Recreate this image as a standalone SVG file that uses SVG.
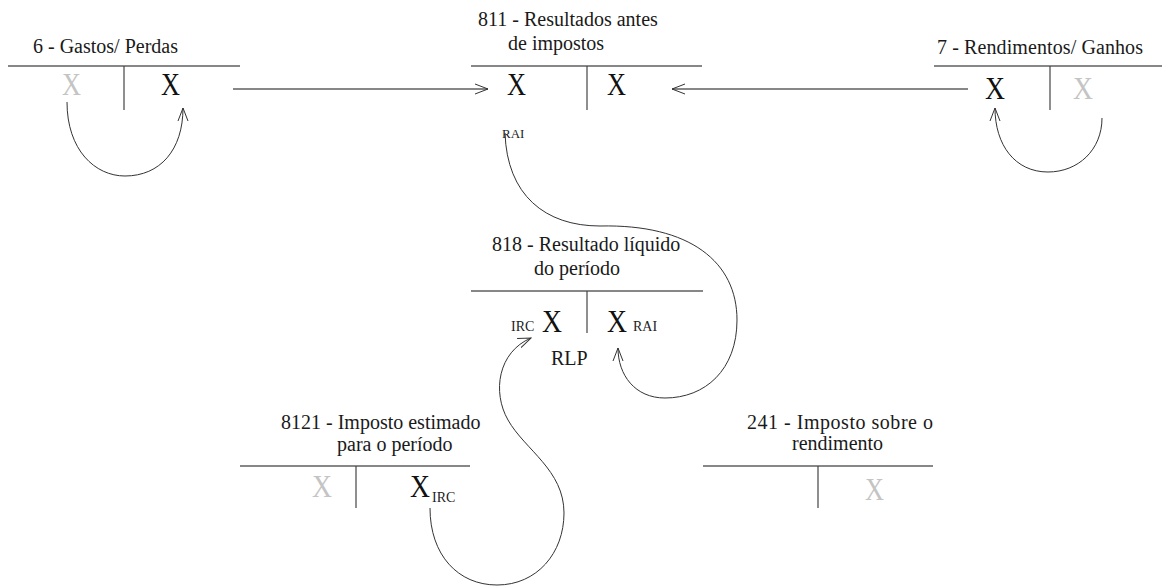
<svg xmlns="http://www.w3.org/2000/svg" width="1162" height="586" viewBox="0 0 1162 586">
<style>
.t{font-family:"Liberation Serif","Times New Roman",serif;font-size:20px;fill:#1a1a1a}
.x{font-family:"Liberation Serif","Times New Roman",serif;font-size:32px;fill:#111}
.g{fill:#c4c4c4}
.s{font-family:"Liberation Serif","Times New Roman",serif;font-size:14px;fill:#222}
.h{stroke:#111;stroke-width:1.2;fill:none}
.v{stroke:#444;stroke-width:1.2;fill:none}
.c{stroke:#333;stroke-width:1;fill:none}
</style>
<defs>
<marker id="ah" viewBox="0 0 14 12" refX="13" refY="6" markerWidth="14" markerHeight="12" markerUnits="userSpaceOnUse" orient="auto">
<path d="M0,1 L13,6 L0,11" fill="none" stroke="#333" stroke-width="1"/>
</marker>
</defs>
<rect width="1162" height="586" fill="#fff"/>

<g id="n6">
<text class="t" x="33" y="53">6 - Gastos/ Perdas</text>
<line class="h" x1="8" y1="66" x2="240" y2="66"/>
<line class="v" x1="124" y1="66" x2="124" y2="110"/>
<text class="x g" x="62" y="95" textLength="19" lengthAdjust="spacingAndGlyphs">X</text>
<text class="x" x="161" y="95" textLength="19" lengthAdjust="spacingAndGlyphs">X</text>
</g>

<g id="n811">
<text class="t" x="478" y="26">811 - Resultados antes</text>
<text class="t" x="508" y="50">de impostos</text>
<line class="h" x1="471" y1="66" x2="702" y2="66"/>
<line class="v" x1="587" y1="66" x2="587" y2="110"/>
<text class="x" x="507" y="95" textLength="19" lengthAdjust="spacingAndGlyphs">X</text>
<text class="x" x="607" y="95" textLength="19" lengthAdjust="spacingAndGlyphs">X</text>
<text class="s" x="502" y="138" style="font-size:13px">RAI</text>
</g>

<g id="n7">
<text class="t" x="937" y="54" textLength="206">7 - Rendimentos/ Ganhos</text>
<line class="h" x1="934" y1="66" x2="1162" y2="66"/>
<line class="v" x1="1050" y1="66" x2="1050" y2="110"/>
<text class="x" x="985" y="99" textLength="20" lengthAdjust="spacingAndGlyphs">X</text>
<text class="x g" x="1073" y="99" textLength="20" lengthAdjust="spacingAndGlyphs">X</text>
</g>

<g id="n818">
<text class="t" x="492" y="251">818 - Resultado líquido</text>
<text class="t" x="534" y="275">do período</text>
<line class="h" x1="471" y1="291" x2="703" y2="291"/>
<line class="v" x1="587" y1="291" x2="587" y2="333"/>
<text class="s" x="511" y="331">IRC</text>
<text class="x" x="542" y="332" textLength="20" lengthAdjust="spacingAndGlyphs">X</text>
<text class="x" x="607" y="332" textLength="20" lengthAdjust="spacingAndGlyphs">X</text>
<text class="s" x="633" y="331">RAI</text>
<text class="t" x="551" y="365">RLP</text>
</g>

<g id="n8121">
<text class="t" x="281" y="429">8121 - Imposto estimado</text>
<text class="t" x="337" y="451">para o período</text>
<line class="h" x1="240" y1="466" x2="470" y2="466"/>
<line class="v" x1="356" y1="466" x2="356" y2="508"/>
<text class="x g" x="312" y="497" textLength="20" lengthAdjust="spacingAndGlyphs">X</text>
<text class="x" x="410" y="497" textLength="20" lengthAdjust="spacingAndGlyphs">X</text>
<text class="s" x="432" y="502">IRC</text>
</g>

<g id="n241">
<text class="t" x="747" y="429" textLength="186">241 - Imposto sobre o</text>
<text class="t" x="792" y="450">rendimento</text>
<line class="h" x1="703" y1="466" x2="933" y2="466"/>
<line class="v" x1="818" y1="466" x2="818" y2="508"/>
<text class="x g" x="865" y="500" textLength="19" lengthAdjust="spacingAndGlyphs">X</text>
</g>

<g id="connectors">
<line class="h" x1="233" y1="89" x2="488" y2="89" marker-end="url(#ah)"/>
<line class="h" x1="968" y1="89" x2="672" y2="89" marker-end="url(#ah)"/>
<path class="c" d="M67,102 C67,150 95,176 125,176 C160,176 183,150 183,108" marker-end="url(#ah)"/>
<path class="c" d="M1102,118 C1102,150 1078,172 1048,172 C1015,172 995,145 995,108" marker-end="url(#ah)"/>
<path class="c" d="M505,133 C507,195 545,226 600,226 C690,224 737,262 737,320 C737,370 705,398 665,398 C635,398 618,375 618,348" marker-end="url(#ah)"/>
<path class="c" d="M430,508 C430,555 458,585 497,585 C537,585 564,553 564,513 C564,470 525,450 508,420 C492,392 498,352 531,338" marker-end="url(#ah)"/>
</g>
</svg>
